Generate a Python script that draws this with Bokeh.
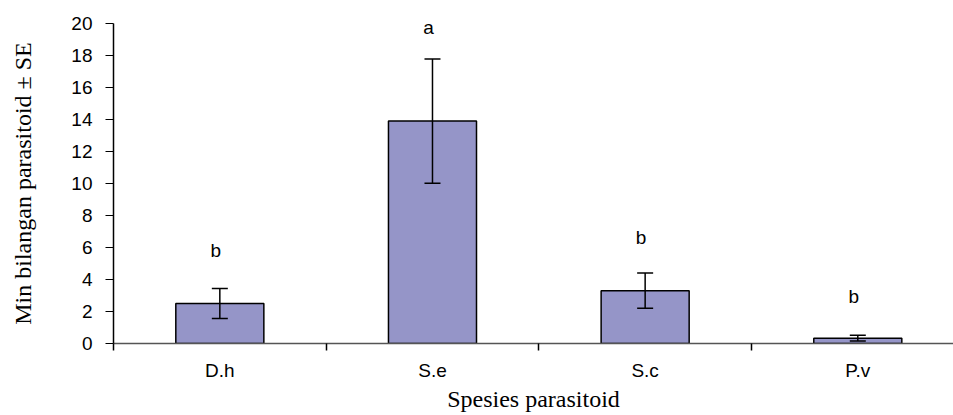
from bokeh.plotting import figure
from bokeh.models import Range1d, FixedTicker, ColumnDataSource, Whisker, TeeHead
from bokeh.core.properties import value
from bokeh.embed import file_html
from bokeh.resources import INLINE

species = ["D.h", "S.e", "S.c", "P.v"]
means = [2.5, 13.9, 3.3, 0.33]
se = [0.93, 3.88, 1.1, 0.18]
letters = ["b", "a", "b", "b"]
letter_y = [5.8, 19.75, 6.6, 2.95]
y_ticks = [0, 2, 4, 6, 8, 10, 12, 14, 16, 18, 20]

xpos = [i + 0.5 for i in range(len(species))]
src = ColumnDataSource(dict(
    x=xpos, top=means,
    upper=[m + s for m, s in zip(means, se)],
    lower=[m - s for m, s in zip(means, se)],
    ly=letter_y, lt=letters,
))

p = figure(width=953, height=415, output_backend="svg", toolbar_location=None,
           x_range=Range1d(0, 3.95), y_range=Range1d(0, 20),
           min_border_left=113, min_border_right=0, min_border_top=23,
           min_border_bottom=72)
p.outline_line_color = None
p.grid.visible = False
p.background_fill_color = "white"
p.border_fill_color = "white"

p.vbar(x="x", top="top", bottom=0, width=0.414, source=src,
       fill_color="#9595C8", line_color="black", line_width=1.5)

w = Whisker(base="x", upper="upper", lower="lower", source=src, level="overlay",
            line_color="black", line_width=1.5,
            upper_head=TeeHead(size=16, line_color="black", line_width=1.5),
            lower_head=TeeHead(size=16, line_color="black", line_width=1.5))
p.add_layout(w)

p.text(x="x", y="ly", text="lt", source=src, x_offset=-4,
       text_align="center", text_baseline="middle",
       text_font=value("Liberation Sans"), text_font_size="19px",
       text_color="black")

# y axis
ya = p.yaxis[0]
ya.ticker = FixedTicker(ticks=y_ticks)
ya.axis_line_color = "black"
ya.axis_line_width = 1.5
ya.major_tick_in = 0
ya.major_tick_out = 8
ya.major_tick_line_color = "black"
ya.major_tick_line_width = 1.2
ya.minor_tick_line_color = None
ya.major_label_standoff = 13
ya.major_label_text_font = "Liberation Sans"
ya.major_label_text_font_size = "19px"
ya.major_label_text_color = "black"
ya.axis_label = "Min bilangan parasitoid ± SE"
ya.axis_label_text_font = "Liberation Serif"
ya.axis_label_text_font_style = "normal"
ya.axis_label_text_font_size = "24px"
ya.axis_label_text_color = "black"
ya.axis_label_standoff = 32

# x axis
xa = p.xaxis[0]
xa.ticker = FixedTicker(ticks=xpos, minor_ticks=[0, 1, 2, 3, 4])
xa.major_label_overrides = {x: s for x, s in zip(xpos, species)}
xa.axis_line_color = "#555555"
xa.axis_line_width = 1.5
xa.major_tick_line_color = None
xa.major_tick_out = 6
xa.major_tick_in = 0
xa.minor_tick_line_color = "black"
xa.minor_tick_line_width = 1.5
xa.minor_tick_out = 7
xa.minor_tick_in = 0
xa.major_label_standoff = 9
xa.major_label_text_font = "Liberation Sans"
xa.major_label_text_font_size = "19px"
xa.major_label_text_color = "black"
xa.axis_label = "Spesies parasitoid"
xa.axis_label_text_font = "Liberation Serif"
xa.axis_label_text_font_style = "normal"
xa.axis_label_text_font_size = "24px"
xa.axis_label_text_color = "black"
xa.axis_label_standoff = 2

open("out.html", "w").write(file_html(p, INLINE))
